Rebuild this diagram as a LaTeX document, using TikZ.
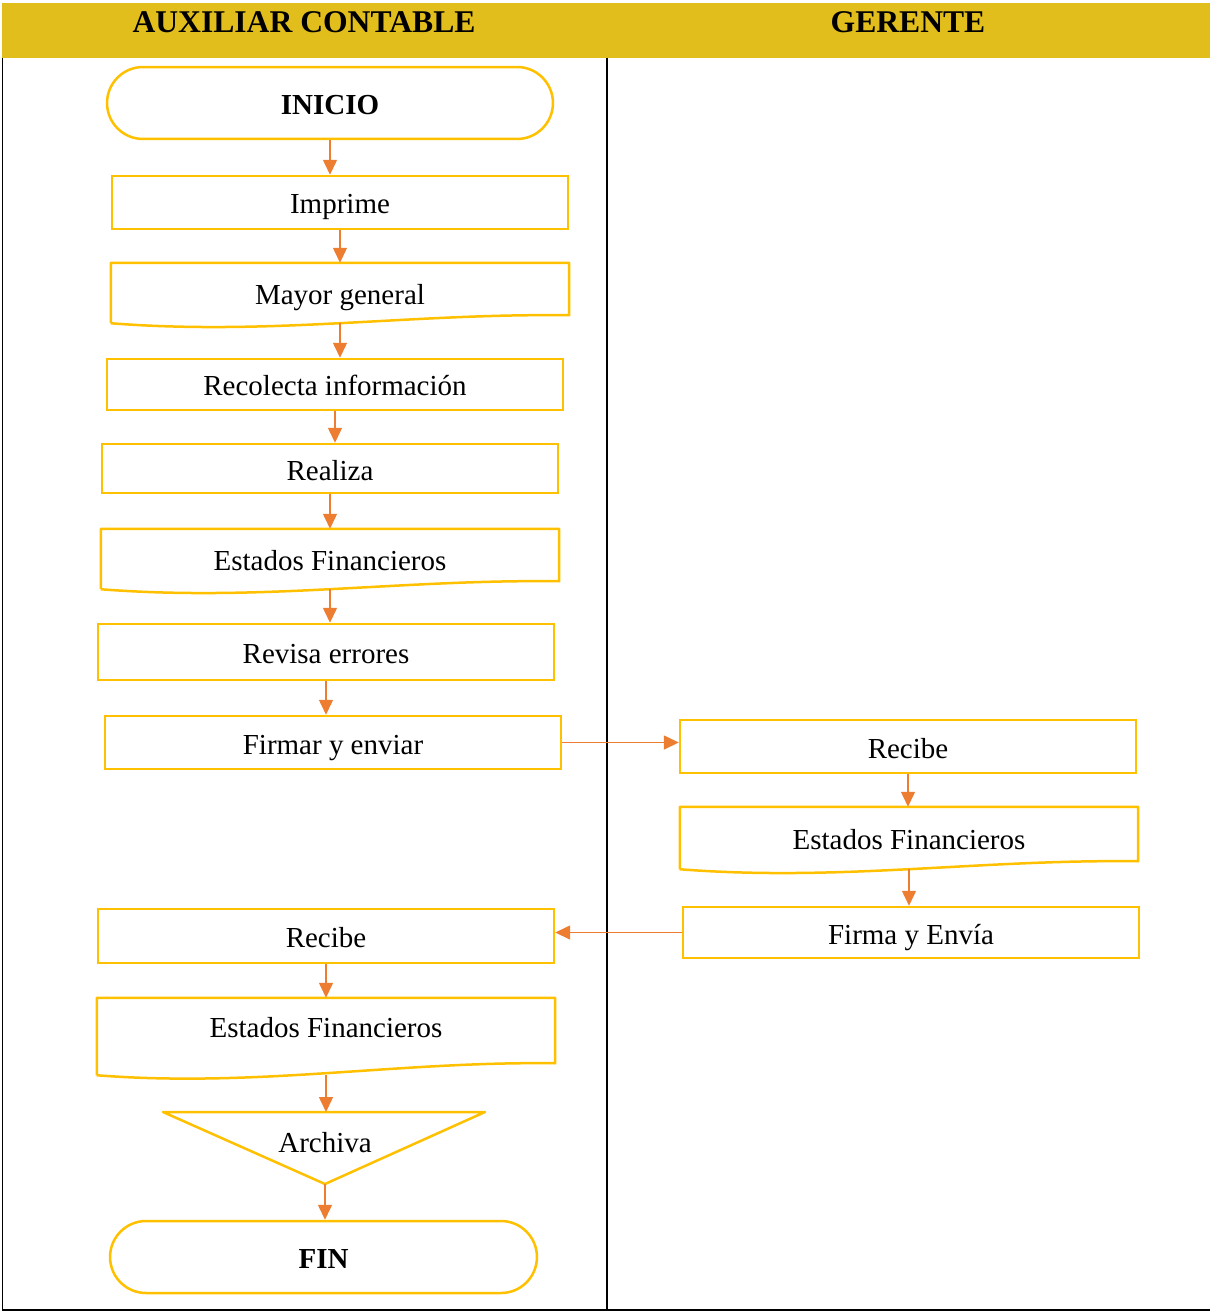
\documentclass[tikz,border=0pt]{standalone}
\usepackage{fontspec}
\setmainfont{Liberation Serif}
\usetikzlibrary{arrows.meta}

\definecolor{headgold}{HTML}{E2BE1C}
\definecolor{boxgold}{HTML}{FFC000}
\definecolor{flowline}{HTML}{ED7D31}

\tikzset{
    stepbox/.style={draw=boxgold, line width=0.05cm, minimum width=9.12cm,
        inner sep=0pt, text height=0.46cm, text depth=0cm,
        font=\fontsize{16.5}{19}\selectfont},
    docbox/.style={stepbox, draw=none},
    termbox/.style={stepbox, rounded corners=0.72cm, minimum height=1.44cm,
        font=\fontsize{16.5}{19}\selectfont\bfseries},
    docline/.style={draw=boxgold, line width=0.05cm, line join=round},
    flow/.style={draw=flowline, line width=0.03cm,
        -{Triangle[length=0.3cm, width=0.28cm]}},
    lane/.style={line width=0.04cm}
}

\begin{document}
\begin{tikzpicture}[x=0.02cm, y=-0.02cm]

\useasboundingbox (0,0) rectangle (1210,1311);

% Draw the header band and the two lanes
\fill[headgold] (2,3) rectangle (1210,58);
\node[font=\fontsize{18}{21}\selectfont\bfseries] (auxhead) at (304,22) {AUXILIAR CONTABLE};
\node[font=\fontsize{18}{21}\selectfont\bfseries] (gerhead) at (908,22) {GERENTE};
\draw[lane] (2.5,58) -- (2.5,1309.5) -- (1210,1309.5);
\draw[lane] (607,58) -- (607,1309.5);

% Auxiliar contable
\node[termbox, minimum width=8.92cm] (inicio) at (330,103) {INICIO};
\node[stepbox, minimum height=1.06cm] (imprime) at (340,202.5) {Imprime};
\node[docbox, minimum height=1.16cm] (mayor) at (340,293) {Mayor general};
\node[stepbox, minimum height=1.02cm] (recolecta) at (335,384.5) {Recolecta información};
\node[stepbox, minimum height=0.98cm] (realiza) at (330,468.5) {Realiza};
\node[docbox, minimum height=1.16cm] (estados) at (330,559) {Estados Financieros};
\node[stepbox, minimum height=1.12cm] (revisa) at (326,652) {Revisa errores};
\node[stepbox, minimum height=1.06cm] (firmar) at (333,742.5) {Firmar y enviar};

% Gerente
\node[stepbox, minimum height=1.06cm] (recibeg) at (908,746.5) {Recibe};
\node[docbox, minimum height=1.2cm] (estadosg) at (909,838) {Estados Financieros};
\node[stepbox, minimum height=1.02cm] (firmae) at (911,932.5) {Firma y Envía};

% Vuelta al auxiliar
\node[stepbox, minimum height=1.08cm] (recibea) at (326,936) {Recibe};
\node[docbox, minimum height=1.5cm, text depth=0.42cm] (estadosb) at (326,1036.5) {Estados Financieros};
\draw[docline] (163,1112) -- (485,1112) -- (325,1184) -- cycle;
\coordinate (archtop) at (325,1112);
\coordinate (archtip) at (325,1184);
\node[font=\fontsize{16.5}{19}\selectfont] (archiva) at (325,1143) {Archiva};
\node[termbox, minimum width=8.54cm] (fin) at (323.5,1257) {FIN};

% Document borders with the wavy bottom
\foreach \d/\h in {mayor/0.16, estados/0.16, estadosg/0.16, estadosb/0.24} {
    \draw[docline] (\d.south west) -- (\d.north west) -- (\d.north east)
        -- ([yshift=\h cm]\d.south east)
        .. controls ([xshift=-3.2cm, yshift=\h cm+0.04cm]\d.south east)
        and ([xshift=3.2cm, yshift=-0.25cm]\d.south west) .. (\d.south west);
}

% Connectors
\foreach \a/\b in {inicio/imprime, imprime/mayor, mayor/recolecta, recolecta/realiza,
    realiza/estados, estados/revisa, revisa/firmar, recibeg/estadosg,
    estadosg/firmae, recibea/estadosb} {
    \draw[flow] (\a.south) -- (\a.south |- \b.north);
}
\draw[flow] (estadosb.south) -- (estadosb.south |- archtop);
\draw[flow] (archtip) -- (archtip |- fin.north);
\draw[flow] (firmar.east) -- (firmar.east -| recibeg.west);
\draw[flow] (firmae.west) -- (firmae.west -| recibea.east);

\end{tikzpicture}
\end{document}
